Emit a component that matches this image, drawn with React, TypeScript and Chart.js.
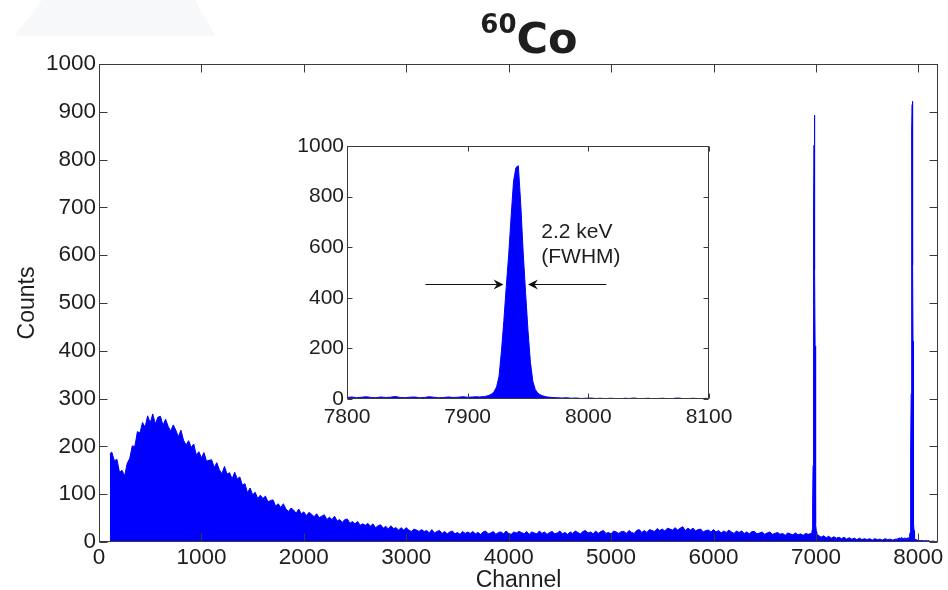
import React, { useEffect, useRef } from 'react';
import { Chart, registerables } from 'chart.js';

Chart.register(...registerables);

// ---------- tick labels ----------
const mainXTicks = [0, 1000, 2000, 3000, 4000, 5000, 6000, 7000, 8000];
const mainYTicks = [0, 100, 200, 300, 400, 500, 600, 700, 800, 900, 1000];
const insetXTicks = [7800, 7900, 8000, 8100];
const insetYTicks = [0, 200, 400, 600, 800, 1000];

// ---------- spectrum (channel, counts) ----------
const leadChannels = [0, 108, 112];
const leadCounts = [0, 0, 186];

// continuum: channels 125, 150, ... 6950 (step 25)
const continuumStart = 125;
const continuumStep = 25;
const continuumCounts = [
  188, 170, 173, 146, 150, 138, 164, 175, 201, 200, 231, 228, 250, 240, 264, 249, 268, 247, 261, 263,
  244, 257, 242, 232, 245, 234, 220, 234, 213, 203, 212, 198, 205, 182, 189, 176, 187, 169, 171, 172,
  156, 166, 151, 143, 158, 142, 145, 132, 146, 132, 136, 119, 122, 103, 113, 99, 104, 91, 98, 91,
  96, 84, 87, 88, 75, 80, 72, 80, 69, 64, 71, 67, 60, 69, 59, 63, 55, 62, 58, 53,
  59, 51, 54, 57, 47, 52, 47, 54, 44, 47, 41, 47, 48, 39, 43, 38, 43, 35, 38, 35,
  39, 33, 38, 30, 34, 36, 29, 33, 27, 34, 28, 30, 25, 30, 25, 30, 25, 22, 27, 25,
  22, 26, 22, 24, 19, 26, 19, 22, 24, 18, 22, 17, 21, 23, 17, 20, 16, 22, 18, 21,
  18, 22, 17, 20, 16, 21, 23, 17, 19, 22, 16, 20, 21, 17, 23, 18, 16, 21, 19, 22,
  20, 17, 22, 16, 21, 19, 17, 23, 18, 21, 16, 20, 22, 17, 19, 23, 17, 20, 16, 21,
  18, 23, 20, 17, 22, 24, 19, 21, 17, 23, 18, 22, 24, 18, 20, 17, 23, 21, 18, 22,
  22, 18, 24, 20, 18, 24, 26, 20, 24, 20, 26, 24, 22, 28, 24, 27, 23, 29, 27, 25,
  30, 25, 29, 32, 24, 29, 25, 29, 23, 26, 27, 21, 24, 25, 21, 26, 21, 24, 19, 23,
  20, 25, 21, 18, 23, 20, 23, 18, 21, 17, 22, 22, 17, 19, 21, 16, 19, 21, 16, 18,
  20, 16, 18, 14, 19, 17, 15, 19, 15, 17, 14, 18, 16, 18,
];

const peak1Channels = [6956, 6960, 6964, 6966, 6968, 6970, 6972, 6974, 6976, 6978, 6980, 6982, 6984, 6986, 6988, 6990, 6992, 6994, 6996, 6998, 7000, 7004, 7008];
const peak1Counts = [18, 20, 26, 35, 50, 80, 160, 270, 400, 540, 690, 830, 888, 893, 760, 570, 410, 260, 140, 70, 38, 22, 16];

// channels 7025 ... 7775 (step 25)
const postPeak1Start = 7025;
const postPeak1Step = 25;
const postPeak1Counts = [14, 10, 13, 9, 12, 8, 11, 8, 10, 7, 10, 6, 9, 6, 8, 5, 8, 5, 7, 5, 7, 4, 7, 5, 6, 4, 7, 5, 6, 4, 6];

// channels 7800 ... 7908 (step 4)
const insetLowStart = 7800;
const insetLowStep = 4;
const insetLowCounts = [6, 8, 5, 7, 9, 6, 5, 8, 6, 7, 10, 6, 5, 7, 8, 5, 6, 9, 7, 5, 6, 8, 6, 7, 9, 7, 8, 9];

const peak2Channels = [7910, 7912, 7914, 7916, 7918, 7920, 7922, 7924, 7926, 7928, 7930, 7932, 7934, 7936, 7938, 7940, 7942, 7944, 7946, 7948, 7950, 7952, 7954, 7956, 7958, 7960, 7962, 7964, 7966];
const peak2Counts = [8, 9, 10, 12, 15, 20, 30, 48, 90, 190, 310, 445, 570, 720, 860, 915, 922, 770, 580, 420, 270, 145, 70, 38, 24, 17, 13, 10, 8];

// channels 7970 ... 8098 (step 4)
const insetHighStart = 7970;
const insetHighStep = 4;
const insetHighCounts = [6, 5, 4, 5, 3, 4, 2, 3, 4, 2, 3, 1, 3, 2, 0, 3, 2, 4, 1, 2, 3, 0, 2, 3, 1, 2, 4, 2, 0, 3, 2, 1, 3];

const tailChannels = [8120, 8140, 8160, 8180, 8192];
const tailCounts = [1, 2, 1, 0, 0];

// annotation
const fwhmLevel = 454;
const leftArrowFrom = 7865;
const leftArrowTo = 7929.7;
const rightArrowFrom = 8015;
const rightArrowTo = 7950;
const noteChannel = 7961;
const noteLines = ['2.2 keV', '(FWHM)'];
const noteCounts = [636, 537];

type P = { x: number; y: number };

function pairs(ch: number[], ct: number[]): P[] {
  return ch.map((c, i) => ({ x: c, y: ct[i] }));
}
function stepped(start: number, step: number, ct: number[]): P[] {
  return ct.map((v, i) => ({ x: start + i * step, y: v }));
}

const insetPoints: P[] = [
  ...stepped(insetLowStart, insetLowStep, insetLowCounts),
  ...pairs(peak2Channels, peak2Counts),
  ...stepped(insetHighStart, insetHighStep, insetHighCounts),
];

const mainPoints: P[] = [
  ...pairs(leadChannels, leadCounts),
  ...stepped(continuumStart, continuumStep, continuumCounts),
  ...pairs(peak1Channels, peak1Counts),
  ...stepped(postPeak1Start, postPeak1Step, postPeak1Counts),
  ...insetPoints,
  ...pairs(tailChannels, tailCounts),
];

const FONT = "'Liberation Sans', Arial, Helvetica, sans-serif";
const TEXT = '#1e1e1e';
const AXIS = '#3a3a3a';
const BLUE = '#0000ff';

function framePlugin(xTicks: number[], yTicks: number[], tickLen: number) {
  return {
    id: 'frame',
    afterDatasetsDraw(chart: any) {
      const { ctx, chartArea: a, scales } = chart;
      ctx.save();
      ctx.strokeStyle = AXIS;
      ctx.lineWidth = 1;
      const L = Math.round(a.left) + 0.5;
      const R = Math.round(a.right) - 0.5;
      const T = Math.round(a.top) + 0.5;
      const B = Math.round(a.bottom) - 0.5;
      ctx.strokeRect(L, T, R - L, B - T);
      ctx.beginPath();
      for (const v of xTicks) {
        const x = Math.round(scales.x.getPixelForValue(v)) + 0.5;
        ctx.moveTo(x, B);
        ctx.lineTo(x, B - tickLen);
        ctx.moveTo(x, T);
        ctx.lineTo(x, T + tickLen);
      }
      for (const v of yTicks) {
        const y = Math.round(scales.y.getPixelForValue(v)) + 0.5;
        ctx.moveTo(L, y);
        ctx.lineTo(L + tickLen, y);
        ctx.moveTo(R, y);
        ctx.lineTo(R - tickLen, y);
      }
      ctx.stroke();
      ctx.restore();
    },
  };
}

const titlePlugin = {
  id: 'isoTitle',
  afterDraw(chart: any) {
    const { ctx } = chart;
    ctx.save();
    ctx.fillStyle = TEXT;
    ctx.textBaseline = 'alphabetic';
    ctx.textAlign = 'left';
    ctx.font = "bold 26px 'DejaVu Sans', sans-serif";
    const supW = ctx.measureText('60').width;
    ctx.font = "bold 43px 'DejaVu Sans', sans-serif";
    const mainW = ctx.measureText('Co').width;
    const total = supW + mainW;
    const cx = 529;
    const x0 = cx - total / 2;
    ctx.font = "bold 26px 'DejaVu Sans', sans-serif";
    ctx.fillText('60', x0, 33);
    ctx.font = "bold 43px 'DejaVu Sans', sans-serif";
    ctx.fillText('Co', x0 + supW, 53);
    ctx.restore();
  },
};

function drawArrow(ctx: CanvasRenderingContext2D, x1: number, x2: number, y: number) {
  const dir = Math.sign(x2 - x1);
  const L = 10;
  const W = 5;
  ctx.beginPath();
  ctx.moveTo(x1, y);
  ctx.lineTo(x2 - dir * 6, y);
  ctx.stroke();
  ctx.beginPath();
  ctx.moveTo(x2, y);
  ctx.lineTo(x2 - dir * L, y - W);
  ctx.lineTo(x2 - dir * 6.5, y);
  ctx.lineTo(x2 - dir * L, y + W);
  ctx.closePath();
  ctx.fill();
}

const annotationPlugin = {
  id: 'fwhm',
  afterDatasetsDraw(chart: any) {
    const { ctx, scales } = chart;
    const sx = scales.x;
    const sy = scales.y;
    ctx.save();
    ctx.strokeStyle = '#111';
    ctx.fillStyle = '#111';
    ctx.lineWidth = 1;
    const y = Math.round(sy.getPixelForValue(fwhmLevel)) + 0.5;
    drawArrow(ctx, sx.getPixelForValue(leftArrowFrom), sx.getPixelForValue(leftArrowTo), y);
    drawArrow(ctx, sx.getPixelForValue(rightArrowFrom), sx.getPixelForValue(rightArrowTo), y);
    ctx.fillStyle = TEXT;
    ctx.font = `21px ${FONT}`;
    ctx.textAlign = 'left';
    ctx.textBaseline = 'alphabetic';
    noteLines.forEach((t, i) => {
      ctx.fillText(t, sx.getPixelForValue(noteChannel), sy.getPixelForValue(noteCounts[i]));
    });
    ctx.restore();
  },
};

function fixTicks(values: number[]) {
  return (scale: any) => {
    scale.ticks = values.map((v) => ({ value: v }));
  };
}

export default function App() {
  const mainRef = useRef<HTMLCanvasElement>(null);
  const insetRef = useRef<HTMLCanvasElement>(null);

  useEffect(() => {
    const mainTickFont = { family: FONT, size: 22.5 };
    const mainTitleFont = { family: FONT, size: 23 };
    const insetTickFont = { family: FONT, size: 21 };
    const main = new Chart(mainRef.current!, {
      type: 'line',
      data: {
        datasets: [
          {
            data: mainPoints,
            borderColor: BLUE,
            backgroundColor: BLUE,
            borderWidth: 1,
            pointRadius: 0,
            fill: 'origin',
            tension: 0,
          },
        ],
      },
      options: {
        animation: false,
        responsive: false,
        devicePixelRatio: 1,
        parsing: false,
        layout: { padding: { top: 64, right: 10, left: 0, bottom: 0 } },
        plugins: { legend: { display: false }, tooltip: { enabled: false }, title: { display: false } },
        scales: {
          x: {
            type: 'linear',
            min: 0,
            max: 8192,
            afterBuildTicks: fixTicks(mainXTicks),
            afterFit: (s: any) => {
              s.height = 48;
            },
            grid: { display: false, drawTicks: false },
            border: { display: false },
            ticks: { font: mainTickFont, color: TEXT, padding: 2, maxRotation: 0, autoSkip: false, callback: (v: any) => String(v) },
            title: { display: true, text: 'Channel', font: mainTitleFont, color: TEXT, padding: { top: 0, bottom: -4 } },
          },
          y: {
            type: 'linear',
            min: 0,
            max: 1000,
            afterBuildTicks: fixTicks(mainYTicks),
            afterFit: (s: any) => {
              s.width = 99;
            },
            grid: { display: false, drawTicks: false },
            border: { display: false },
            ticks: { font: mainTickFont, color: TEXT, padding: 3, autoSkip: false, callback: (v: any) => String(v) },
            title: { display: true, text: 'Counts', font: mainTitleFont, color: TEXT, padding: { top: 14, bottom: 0 } },
          },
        },
      },
      plugins: [framePlugin(mainXTicks, mainYTicks, 8), titlePlugin],
    } as any);

    const inset = new Chart(insetRef.current!, {
      type: 'line',
      data: {
        datasets: [
          {
            data: insetPoints,
            borderColor: BLUE,
            backgroundColor: BLUE,
            borderWidth: 1,
            pointRadius: 0,
            fill: 'origin',
            tension: 0,
          },
        ],
      },
      options: {
        animation: false,
        responsive: false,
        devicePixelRatio: 1,
        parsing: false,
        layout: { padding: { top: 20, right: 41, left: 0, bottom: 0 } },
        plugins: { legend: { display: false }, tooltip: { enabled: false } },
        scales: {
          x: {
            type: 'linear',
            min: 7800,
            max: 8100,
            afterBuildTicks: fixTicks(insetXTicks),
            afterFit: (s: any) => {
              s.height = 37;
            },
            grid: { display: false, drawTicks: false },
            border: { display: false },
            ticks: { font: insetTickFont, color: TEXT, padding: 6, maxRotation: 0, autoSkip: false, callback: (v: any) => String(v) },
          },
          y: {
            type: 'linear',
            min: 0,
            max: 1000,
            afterBuildTicks: fixTicks(insetYTicks),
            afterFit: (s: any) => {
              s.width = 67;
            },
            grid: { display: false, drawTicks: false },
            border: { display: false },
            ticks: { font: insetTickFont, color: TEXT, padding: 3, autoSkip: false, callback: (v: any) => String(v) },
          },
        },
      },
      plugins: [framePlugin(insetXTicks, insetYTicks, 5), annotationPlugin],
    } as any);

    return () => {
      main.destroy();
      inset.destroy();
    };
  }, []);

  return (
    <div style={{ position: 'absolute', left: 0, top: 0, width: 948, height: 590, background: '#fff', overflow: 'hidden' }}>
      <svg width={948} height={40} style={{ position: 'absolute', left: 0, top: 0 }}>
        <polygon points="15,36 42,0 195,0 215,36" fill="#f7f8fa" />
      </svg>
      <canvas ref={mainRef} width={948} height={590} style={{ position: 'absolute', left: 0, top: 0 }} />
      <canvas ref={insetRef} width={470} height={310} style={{ position: 'absolute', left: 280, top: 126 }} />
    </div>
  );
}
